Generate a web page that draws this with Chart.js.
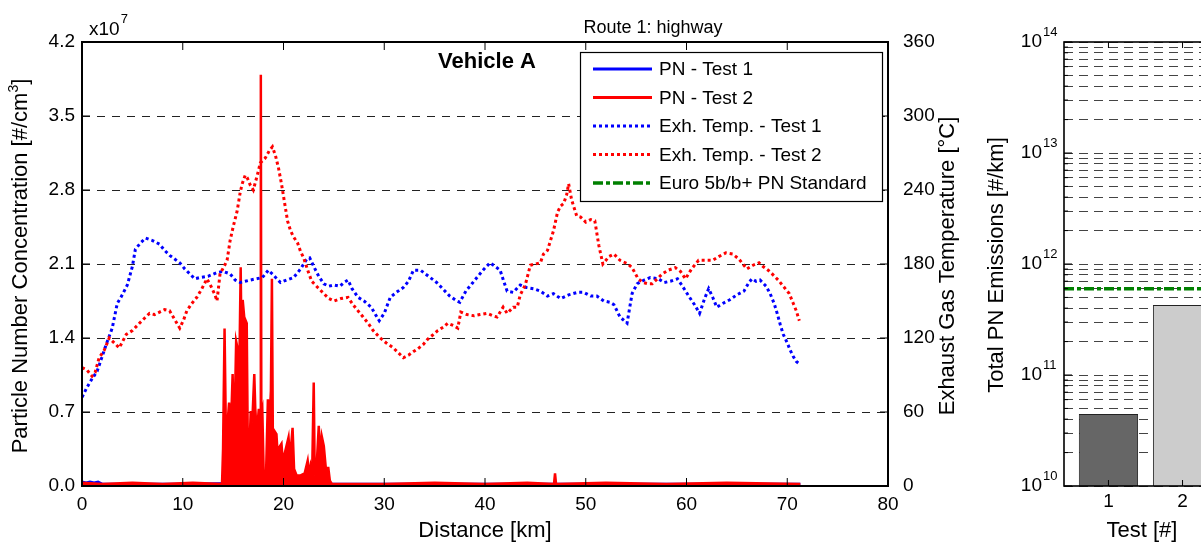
<!DOCTYPE html>
<html>
<head>
<meta charset="utf-8">
<script src="https://cdn.jsdelivr.net/npm/chart.js@4.4.1/dist/chart.umd.min.js"></script>
<style>
html, body { margin:0; padding:0; background:#fff; overflow:hidden; }
#wrap { position:relative; width:1201px; height:542px; overflow:hidden; }
#left { position:absolute; left:0; top:0; }
#right { position:absolute; left:975px; top:0; }
</style>
</head>
<body>
<div id="wrap">
<canvas id="left" width="975" height="542"></canvas>
<canvas id="right" width="300" height="542"></canvas>
</div>
<script>
// PN concentration, x10^7 #/cm3, against distance in km
var pn1Km = [0,0.4,0.8,1.2,1.6,2.0,10,18.2,18.4,30,45,60,71.3];
var pn1 = [0.04,0.03,0.04,0.03,0.04,0.02,0.02,0.03,0.02,0.02,0.02,0.02,0.02];

var pn2Km = [0,2,5,8,11,13.9,14.0,14.15,14.3,14.45,
  14.6,14.75,14.95,15.1,15.3,15.45,15.6,15.75,15.85,15.95,
  16.1,16.35,16.45,16.6,16.75,16.9,17.1,17.2,17.35,17.55,
  17.7,17.75,17.8,17.9,18.05,18.25,18.45,18.6,18.75,18.85,
  18.95,19.1,19.3,19.45,19.6,19.8,19.95,20.1,20.3,20.5,
  20.65,20.9,21.05,21.3,21.7,22.1,22.4,22.55,22.7,22.85,
  23.0,23.1,23.3,23.5,23.65,23.8,24.0,24.2,24.45,24.6,
  24.8,30,35,40,44.2,46.85,46.95,47.05,52,58,
  64,71.3];
var pn2 = [0.03,0.02,0.03,0.02,0.03,0.02,0.35,1.49,0.37,0.6,
  0.79,0.45,1.06,0.4,1.37,1.3,1.0,2.07,1.2,1.76,
  1.6,1.54,0.46,0.3,0.71,0.6,1.06,0.73,0.5,0.73,
  0.5,3.89,0.66,0.71,0.05,0.05,0.82,0.6,0.9,1.96,
  0.37,0.52,0.49,0.25,0.37,0.4,0.2,0.3,0.38,0.46,
  0.25,0.55,0.16,0.1,0.1,0.12,0.24,0.1,0.2,0.15,
  0.98,0.1,0.21,0.57,0.3,0.47,0.38,0.17,0.17,0.05,
  0.02,0.02,0.03,0.02,0.03,0.02,0.12,0.02,0.03,0.02,
  0.03,0.02];

// exhaust gas temperature, deg C
var t1Km = [0,0.5,1,1.5,2,2.5,3,3.5,4,4.5,
  5,5.3,5.8,6.3,7,7.7,8.2,8.7,9.7,10.2,
  10.7,11.2,11.7,12.5,13.4,14,14.7,15.2,15.7,16.2,
  16.7,17.3,17.9,18.5,19,19.7,20.3,21,21.7,22.3,
  22.6,23,23.5,24,24.5,25,25.6,26,26.4,26.8,
  27.4,28,28.7,29.2,29.5,30,30.6,31.2,31.9,32.4,
  32.9,33.6,34.4,35.2,35.8,36.5,37.2,37.5,38.1,38.7,
  39.2,39.8,40.5,41,41.5,41.9,42.2,42.8,43.5,44.1,
  44.8,45.5,46.2,46.8,47.5,48.3,49.2,49.8,50.5,51.1,
  51.8,52.4,52.8,53.4,54.1,54.6,55.1,55.8,56.4,57.2,
  57.8,58.4,59.1,59.6,60.3,60.8,61.3,61.8,62.2,62.6,
  63,63.6,64.3,65,65.7,66.2,66.5,66.9,67.3,67.9,
  68.3,68.7,69,69.3,69.6,70,70.3,70.6,70.9,71.2];
var t1C = [72,80,87,93,105,117,128,148,155,163,
  178,192,197,201,199,196,191,187,181,176,
  172,168,169,170,173,174,172,167,165,166,
  167,168,169,175,171,165,167,169,176,184,
  185,178,170,164,162,163,162,165,167,160,
  153,150,145,138,134,140,153,157,161,166,
  175,175,170,165,160,154,150,149,158,164,
  169,175,181,178,175,165,158,157,163,161,
  160,158,154,156,152,155,157,157,154,154,
  150,149,147,137,132,156,164,167,169,168,
  165,166,168,162,153,147,140,152,160,153,
  145,148,151,155,158,165,168,166,167,162,
  156,148,140,131,123,116,110,105,101,99];

var t2Km = [0,0.5,1,1.3,1.7,2.2,2.7,3.2,3.7,4.4,
  5,5.7,6.2,6.7,7.2,7.7,8.2,8.7,9.2,9.7,
  10.1,10.4,10.9,11.4,11.9,12.4,12.8,13.2,13.4,13.7,
  14.1,14.4,14.7,15,15.4,15.7,15.9,16.2,16.4,16.7,
  17,17.4,17.7,18.2,18.6,18.9,19.2,19.5,19.8,20.1,
  20.4,20.7,21,21.4,21.7,22,22.4,22.8,23.4,24,
  24.5,25,25.7,26.4,26.9,27.4,27.9,28.4,28.9,29.6,
  30.2,30.9,31.4,31.9,32.4,32.9,33.3,33.9,34.3,34.9,
  35.3,35.9,36.3,36.9,37.3,37.6,38.2,38.9,39.5,40.2,
  40.8,41.2,41.8,42.2,42.8,43.2,43.5,44,44.5,45,
  45.5,45.8,46.2,46.5,46.8,47.2,47.5,47.8,48.1,48.3,
  48.6,49.1,49.5,50,50.5,50.9,51.3,51.7,52.3,52.8,
  53.4,54.2,54.6,55.2,55.7,56.2,56.6,57.1,57.6,58.2,
  58.9,59.4,59.9,60.5,61.2,61.9,62.6,63.2,63.9,64.6,
  65.2,65.6,66,66.6,67.2,67.6,68.1,68.5,69.1,69.5,
  70.2,70.6,70.9,71.2];
var t2C = [96,94,89,92,104,110,120,116,112,123,
  126,132,136,140,139,141,143,142,135,128,
  135,142,148,153,160,168,162,155,150,172,
  178,183,199,210,223,238,245,252,250,244,
  240,252,262,266,272,275,268,258,245,230,
  215,207,202,197,190,185,175,166,161,156,
  152,150,152,153,147,142,137,132,126,120,
  116,112,108,104,106,109,111,115,119,123,
  126,129,132,130,128,141,139,138,139,140,
  138,137,145,140,145,145,155,163,179,180,
  181,188,191,199,207,222,227,229,236,245,
  232,219,218,214,216,215,195,180,186,188,
  183,180,177,168,165,164,164,168,172,175,
  177,174,168,176,183,183,183,186,189,188,
  184,180,176,179,181,178,175,172,167,163,
  156,148,142,134];

var distTicks = [0,10,20,30,40,50,60,70,80];
var pnTicks = [0,0.7,1.4,2.1,2.8,3.5,4.2];
var tempTicks = [0,60,120,180,240,300,360];

// right panel: total PN per test, #/km
var tests = [1,2];
var totalPN = [4.45e10, 4.27e11];
var euroLimit = 6.0e11;
var testAxis = [0.4, 2.6];
var logDecades = [10,11,12,13,14];

var FONT = '"Liberation Sans", Arial, Helvetica, sans-serif';
Chart.defaults.font.family = FONT;
Chart.defaults.color = '#000';

var standardStyle = {label:'Euro 5b/b+ PN Standard', color:'#008000', width:3.5, dash:[10,3,4,3]};

function pairs(xs, ys) {
    return xs.map(function(x, i){ return {x: x, y: ys[i]}; });
}

function line(ctx, x1, y1, x2, y2) {
    ctx.beginPath();
    ctx.moveTo(x1, y1);
    ctx.lineTo(x2, y2);
    ctx.stroke();
}

// text pieces [text, font, dy] centred on (cx, cy), optionally rotated
function drawPieces(ctx, cx, cy, pieces, rotate) {
    ctx.save();
    ctx.translate(cx, cy);
    if (rotate) ctx.rotate(-Math.PI / 2);
    var total = 0;
    pieces.forEach(function(p){ ctx.font = p[1]; total += ctx.measureText(p[0]).width; });
    var x = -total / 2;
    ctx.textAlign = 'left';
    ctx.textBaseline = 'middle';
    ctx.fillStyle = '#000';
    pieces.forEach(function(p){
        ctx.font = p[1];
        ctx.fillText(p[0], x, p[2]);
        x += ctx.measureText(p[0]).width;
    });
    ctx.restore();
}

var leftDecor = {
    id: 'leftDecor',
    afterDraw: function(chart) {
        var ctx = chart.ctx, ca = chart.chartArea;
        var sx = chart.scales.x, sp = chart.scales.yPN, st = chart.scales.yT;
        ctx.save();
        ctx.strokeStyle = '#000';
        ctx.lineWidth = 1;
        distTicks.forEach(function(v){
            var px = sx.getPixelForValue(v);
            line(ctx, px, ca.bottom, px, ca.bottom - 8);
            line(ctx, px, ca.top, px, ca.top + 8);
        });
        pnTicks.forEach(function(v){
            var py = sp.getPixelForValue(v);
            line(ctx, ca.left, py, ca.left + 8, py);
        });
        tempTicks.forEach(function(v){
            var py = st.getPixelForValue(v);
            line(ctx, ca.right, py, ca.right - 8, py);
        });
        ctx.lineWidth = 2;
        ctx.strokeRect(ca.left, ca.top, ca.right - ca.left, ca.bottom - ca.top);

        // legend
        var lg = {left: 580, top: 52, right: 882, bottom: 201};
        ctx.fillStyle = '#fff';
        ctx.fillRect(lg.left, lg.top, lg.right - lg.left, lg.bottom - lg.top);
        ctx.lineWidth = 1.2;
        ctx.strokeRect(lg.left + 0.5, lg.top + 0.5, lg.right - lg.left, lg.bottom - lg.top);
        var items = chart.data.datasets.map(function(d){
            return {label: d.label, color: d.borderColor, width: 3, dash: d.borderDash || []};
        });
        items.push(standardStyle);
        items.forEach(function(it, i){
            var y = 69 + i * 28.5;
            ctx.strokeStyle = it.color;
            ctx.lineWidth = it.width;
            ctx.setLineDash(it.dash);
            line(ctx, 593, y, 652, y);
            ctx.setLineDash([]);
            ctx.fillStyle = '#000';
            ctx.font = '19px ' + FONT;
            ctx.textAlign = 'left';
            ctx.textBaseline = 'middle';
            ctx.fillText(it.label, 659, y + 1);
        });

        // texts
        ctx.fillStyle = '#000';
        ctx.textBaseline = 'alphabetic';
        ctx.textAlign = 'left';
        ctx.font = '19px ' + FONT;
        ctx.fillText('x10', 89, 35);
        var w = ctx.measureText('x10').width;
        ctx.font = '13px ' + FONT;
        ctx.fillText('7', 89 + w + 1, 23);

        ctx.textAlign = 'center';
        ctx.font = '18px ' + FONT;
        ctx.fillText('Route 1: highway', 653, 33);
        ctx.font = 'bold 22px ' + FONT;
        ctx.fillText('Vehicle A', 487, 68);

        drawPieces(ctx, 485, 531, [['Distance [km]', '22px ' + FONT, 0]], false);
        drawPieces(ctx, 21, 266, [
            ['Particle Number Concentration [#/cm', '22px ' + FONT, 0],
            ['3', '14px ' + FONT, -7],
            [']', '22px ' + FONT, 0]
        ], true);
        drawPieces(ctx, 948, 266, [['Exhaust Gas Temperature [\u00B0C]', '22px ' + FONT, 0]], true);
        ctx.restore();
    }
};

new Chart(document.getElementById('left'), {
    type: 'line',
    data: {
        datasets: [
            {label: 'PN - Test 1', data: pairs(pn1Km, pn1), yAxisID: 'yPN', borderColor: '#0000ff',
             borderWidth: 2.5, pointRadius: 0, order: 4},
            {label: 'PN - Test 2', data: pairs(pn2Km, pn2), yAxisID: 'yPN', borderColor: '#ff0000',
             backgroundColor: '#ff0000', fill: 'origin', borderWidth: 2.5, pointRadius: 0, order: 3},
            {label: 'Exh. Temp. - Test 1', data: pairs(t1Km, t1C), yAxisID: 'yT', borderColor: '#0000ff',
             borderDash: [3, 3], borderWidth: 3, pointRadius: 0, order: 2},
            {label: 'Exh. Temp. - Test 2', data: pairs(t2Km, t2C), yAxisID: 'yT', borderColor: '#ff0000',
             borderDash: [3, 3], borderWidth: 3, pointRadius: 0, order: 1}
        ]
    },
    options: {
        responsive: false,
        animation: false,
        devicePixelRatio: 1,
        events: [],
        layout: {padding: {top: 42, left: 0, right: 0, bottom: 0}},
        plugins: {legend: {display: false}, tooltip: {enabled: false}},
        scales: {
            x: {
                type: 'linear', min: 0, max: 80,
                afterBuildTicks: function(s){ s.ticks = distTicks.map(function(v){ return {value: v}; }); },
                afterFit: function(s){ s.height = 56; },
                ticks: {font: {size: 19}, padding: -1, maxRotation: 0, autoSkip: false},
                grid: {display: false},
                border: {display: false}
            },
            yPN: {
                type: 'linear', position: 'left', min: 0, max: 4.2,
                afterBuildTicks: function(s){ s.ticks = pnTicks.map(function(v){ return {value: v}; }); },
                afterFit: function(s){ s.width = 82; },
                ticks: {font: {size: 19}, padding: 7, autoSkip: false, callback: function(v){ return v.toFixed(1); }},
                grid: {display: true, drawTicks: false, color: '#222', lineWidth: 1},
                border: {display: false, dash: [8, 7]}
            },
            yT: {
                type: 'linear', position: 'right', min: 0, max: 360,
                afterBuildTicks: function(s){ s.ticks = tempTicks.map(function(v){ return {value: v}; }); },
                afterFit: function(s){ s.width = 87; },
                ticks: {font: {size: 19}, padding: 7, autoSkip: false},
                grid: {display: false},
                border: {display: false}
            }
        }
    },
    plugins: [leftDecor]
});

var rightDecor = {
    id: 'rightDecor',
    afterDraw: function(chart) {
        var ctx = chart.ctx, ca = chart.chartArea;
        var sx = chart.scales.x, sy = chart.scales.y;
        ctx.save();
        ctx.strokeStyle = '#000';
        ctx.lineWidth = 1;
        tests.forEach(function(v){
            var px = sx.getPixelForValue(v);
            line(ctx, px, ca.top, px, ca.top + 6);
            line(ctx, px, ca.bottom, px, ca.bottom - 6);
        });
        sy.ticks.forEach(function(t){
            var py = sy.getPixelForValue(t.value);
            line(ctx, ca.left, py, ca.left + (t.major ? 8 : 4), py);
        });
        ctx.lineWidth = 1.6;
        ctx.strokeRect(ca.left, ca.top, ca.right - ca.left, ca.bottom - ca.top);

        ctx.fillStyle = '#000';
        logDecades.forEach(function(d){
            var py = sy.getPixelForValue(Math.pow(10, d));
            ctx.font = '19px ' + FONT;
            ctx.textAlign = 'right';
            ctx.textBaseline = 'middle';
            ctx.fillText('10', 67, py);
            ctx.font = '13px ' + FONT;
            ctx.textAlign = 'left';
            ctx.textBaseline = 'alphabetic';
            ctx.fillText(String(d), 68, py - 6);
        });
        drawPieces(ctx, 22, 265, [['Total PN Emissions [#/km]', '22px ' + FONT, 0]], true);
        drawPieces(ctx, 167, 531, [['Test [#]', '22px ' + FONT, 0]], false);
        ctx.restore();
    }
};

new Chart(document.getElementById('right'), {
    type: 'bar',
    data: {
        datasets: [
            {type: 'line', label: standardStyle.label,
             data: [{x: testAxis[0], y: euroLimit}, {x: testAxis[1], y: euroLimit}],
             borderColor: standardStyle.color, borderWidth: standardStyle.width, borderDash: standardStyle.dash,
             pointRadius: 0, order: 0},
            {label: 'Total PN', data: pairs(tests, totalPN), backgroundColor: ['#666666', '#cccccc'],
             borderColor: '#222', borderWidth: 1, barPercentage: 0.8, categoryPercentage: 1, order: 1}
        ]
    },
    options: {
        responsive: false,
        animation: false,
        devicePixelRatio: 1,
        events: [],
        layout: {padding: {top: 42, left: 0, right: 48, bottom: 0}},
        plugins: {legend: {display: false}, tooltip: {enabled: false}},
        scales: {
            x: {
                type: 'linear', min: testAxis[0], max: testAxis[1], offset: false,
                afterBuildTicks: function(s){ s.ticks = tests.map(function(v){ return {value: v}; }); },
                afterFit: function(s){ s.height = 56; },
                ticks: {font: {size: 19}, padding: -4, maxRotation: 0, autoSkip: false},
                grid: {display: false},
                border: {display: false}
            },
            y: {
                type: 'logarithmic', min: 1e10, max: 1e14,
                afterBuildTicks: function(s){
                    var t = [];
                    logDecades.forEach(function(d, i){
                        var m = i < logDecades.length - 1 ? 9 : 1;
                        for (var k = 1; k <= m; k++) t.push({value: k * Math.pow(10, d), major: k === 1});
                    });
                    s.ticks = t;
                },
                afterFit: function(s){ s.width = 89; },
                ticks: {autoSkip: false, callback: function(){ return ''; }},
                grid: {display: true, drawTicks: false, color: '#444', lineWidth: 1},
                border: {display: false, dash: [9, 6]}
            }
        }
    },
    plugins: [rightDecor]
});
</script>
</body>
</html>
